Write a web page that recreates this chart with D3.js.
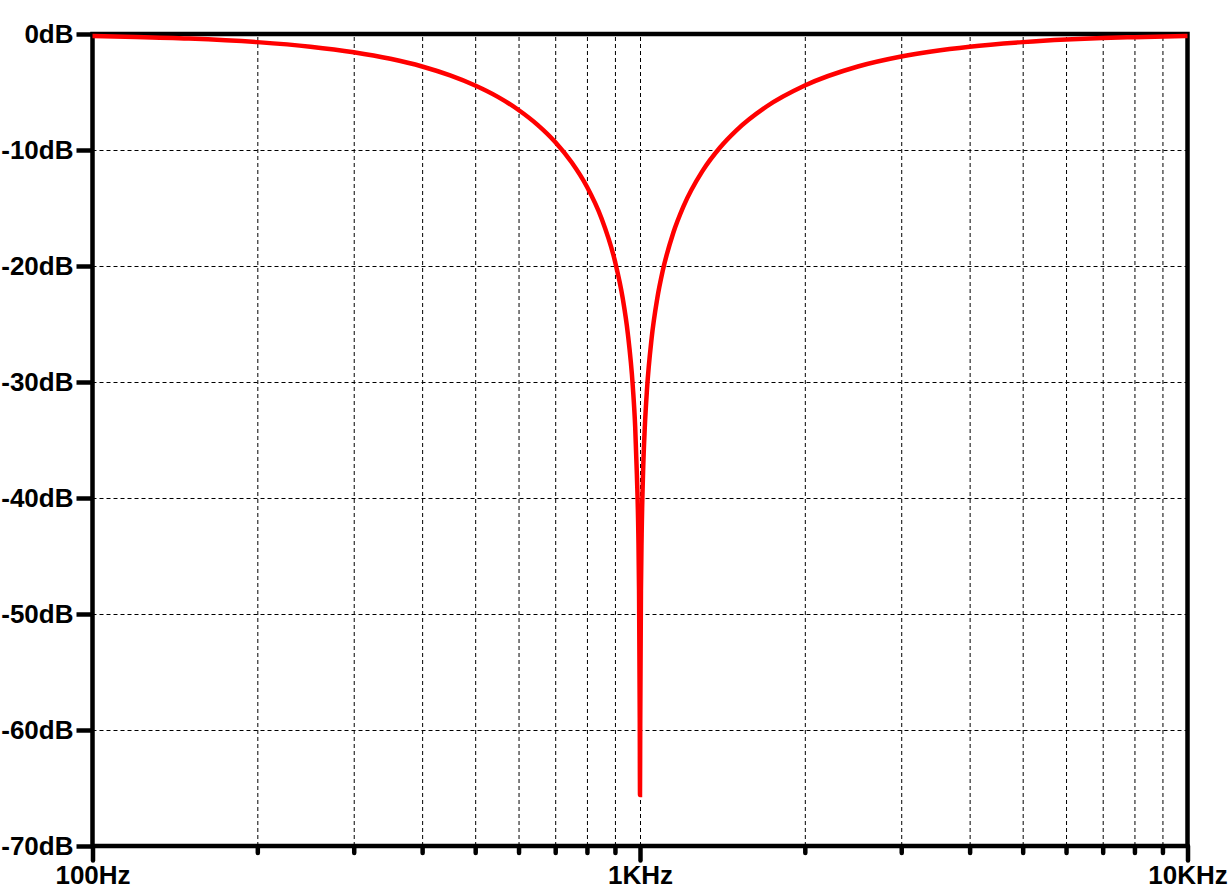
<!DOCTYPE html>
<html>
<head>
<meta charset="utf-8">
<script src="https://cdn.jsdelivr.net/npm/d3@7"></script>
<style>
  html, body { margin: 0; padding: 0; background: #fff; }
  svg { display: block; }
  text { font-family: "Liberation Sans", Arial, sans-serif; font-weight: bold; font-size: 26px; fill: #000; }
</style>
</head>
<body>
<svg id="chart" width="1232" height="895"></svg>
<script>
// ---- data ----
const freqHz = [100, 120, 150, 200, 250, 300, 350, 400, 450, 500, 550, 600, 650, 700, 750, 800, 850, 900, 930, 950, 970, 980, 987, 993, 996, 999, 1000, 1001, 1004, 1007, 1013, 1020, 1030, 1050, 1075, 1100, 1150, 1200, 1300, 1400, 1500, 1700, 2000, 2500, 3000, 4000, 5000, 6000, 7000, 8000, 10000];
const magDb  = [-0.17, -0.25, -0.39, -0.70, -1.09, -1.57, -2.14, -2.80, -3.57, -4.44, -5.42, -6.55, -7.83, -9.31, -11.06, -13.17, -15.86, -19.58, -22.80, -25.81, -30.33, -33.89, -38.0, -43.07, -48.0, -59.0, -65.6, -59.6, -47.98, -43.13, -37.78, -34.07, -30.59, -26.24, -22.83, -20.44, -17.15, -14.88, -11.82, -9.78, -8.30, -6.27, -4.44, -2.80, -1.94, -1.09, -0.70, -0.48, -0.35, -0.27, -0.17];

const yTicks = [0, -10, -20, -30, -40, -50, -60, -70];
const yTickLabels = ["0dB", "-10dB", "-20dB", "-30dB", "-40dB", "-50dB", "-60dB", "-70dB"];
const xMajorTicks = [100, 1000, 10000];
const xMajorLabels = ["100Hz", "1KHz", "10KHz"];
const xMinorTicks = [200, 300, 400, 500, 600, 700, 800, 900, 2000, 3000, 4000, 5000, 6000, 7000, 8000, 9000];

(function () {
// ---- layout ----
const pLeft = 92.5, pRight = 1187.5, pTop = 34, pBottom = 846;
const svg = d3.select("#chart");

const x = d3.scaleLog().domain([100, 10000]).range([pLeft, pRight]);
const y = d3.scaleLinear().domain([-70, 0]).range([pBottom, pTop]);

// grid
const gridX = svg.append("g")
  .attr("transform", `translate(0,${pBottom})`)
  .call(d3.axisBottom(x).tickValues(xMinorTicks.concat([1000])).tickSize(-(pBottom - pTop)).tickFormat(""));
const gridY = svg.append("g")
  .attr("transform", `translate(${pLeft},0)`)
  .call(d3.axisLeft(y).tickValues(yTicks.filter(d => d !== 0 && d !== -70)).tickSize(-(pRight - pLeft)).tickFormat(""));
[gridX, gridY].forEach(g => {
  g.select(".domain").remove();
  g.selectAll("line").attr("stroke", "#000").attr("stroke-width", 1).attr("stroke-dasharray", "4,3");
});

// frame
svg.append("rect")
  .attr("x", pLeft).attr("y", pTop)
  .attr("width", pRight - pLeft).attr("height", pBottom - pTop)
  .attr("fill", "none").attr("stroke", "#000").attr("stroke-width", 4.5);

// y axis ticks + labels
const yAxis = svg.append("g")
  .attr("transform", `translate(${pLeft},0)`)
  .call(d3.axisLeft(y).tickValues(yTicks).tickSize(16).tickPadding(3)
    .tickFormat((d, i) => yTickLabels[i]));
yAxis.select(".domain").remove();
yAxis.selectAll("line").attr("stroke", "#000").attr("stroke-width", 4.5);
yAxis.selectAll("text").attr("fill", "#000").style("font-size", "26px");
yAxis.attr("font-family", null).attr("font-size", null);

// x axis minor ticks
const xMinor = svg.append("g")
  .attr("transform", `translate(0,${pBottom})`)
  .call(d3.axisBottom(x).tickValues(xMinorTicks).tickSize(7).tickFormat(""));
xMinor.select(".domain").remove();
xMinor.selectAll("line").attr("stroke", "#000").attr("stroke-width", 4.5).attr("stroke-linecap", "round");

// x axis major ticks + labels
const xMajor = svg.append("g")
  .attr("transform", `translate(0,${pBottom})`)
  .call(d3.axisBottom(x).tickValues(xMajorTicks).tickSize(14.5).tickPadding(5)
    .tickFormat((d, i) => xMajorLabels[i]));
xMajor.select(".domain").remove();
xMajor.selectAll("line").attr("stroke", "#000").attr("stroke-width", 4.5).attr("stroke-linecap", "round");
xMajor.selectAll("text").attr("fill", "#000").style("font-size", "26px");
xMajor.attr("font-family", null).attr("font-size", null);

// curve
const pts = freqHz.map((f, i) => [f, magDb[i]]);
svg.append("path")
  .datum(pts)
  .attr("fill", "none")
  .attr("stroke", "#ff0000")
  .attr("stroke-width", 4.5)
  .attr("stroke-linejoin", "miter")
  .attr("d", d3.line().curve(d3.curveMonotoneX).x(d => x(d[0])).y(d => y(d[1])));
})();
</script>
</body>
</html>
